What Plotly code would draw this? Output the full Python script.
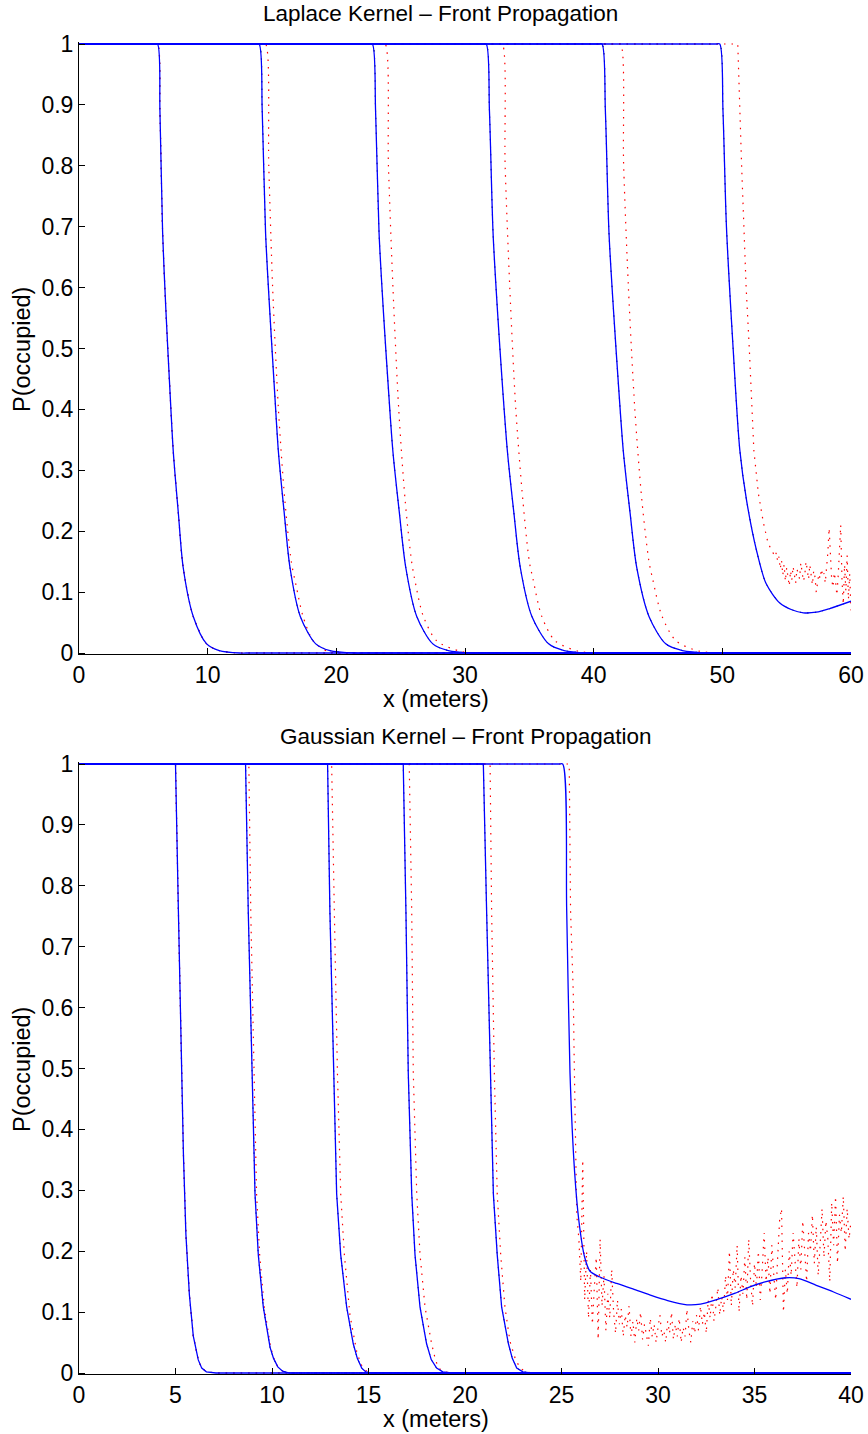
import plotly.graph_objects as go

# ---------------- Top panel: Laplace kernel ----------------
lap_blue_x = [
    [0, 5.8, 6.1, 6.29, 6.5, 6.76, 7.07, 7.33, 7.72, 8.1, 8.88, 9.92, 10.9, 12.5, 13.0, 60],
    [0, 13.7, 14.0, 14.24, 14.5, 14.83, 15.2, 15.5, 15.95, 16.4, 17.2, 18.4, 19.5, 21.5, 22.0, 60],
    [0, 22.5, 22.8, 23.05, 23.32, 23.66, 24.06, 24.4, 24.9, 25.4, 26.25, 27.5, 28.7, 30.5, 31.0, 60],
    [0, 31.35, 31.65, 31.9, 32.18, 32.53, 32.94, 33.3, 33.8, 34.3, 35.2, 36.5, 37.7, 39.5, 40.0, 60],
    [0, 40.35, 40.65, 40.91, 41.19, 41.55, 41.96, 42.31, 42.83, 43.35, 44.3, 45.6, 46.9, 49.0, 49.5, 60],
    [0, 49.5, 49.8, 50.05, 50.32, 50.84, 51.36, 51.88, 52.65, 53.4, 54.47, 55.4, 56.3, 57.3, 58.35, 60],
]
lap_blue_y = [
    [1, 1, 1, 0.89, 0.69, 0.56, 0.43, 0.33, 0.23, 0.14, 0.06, 0.015, 0.004, 0, 0, 0],
    [1, 1, 1, 0.89, 0.69, 0.56, 0.43, 0.33, 0.23, 0.14, 0.06, 0.015, 0.004, 0, 0, 0],
    [1, 1, 1, 0.89, 0.69, 0.56, 0.43, 0.33, 0.23, 0.14, 0.06, 0.015, 0.004, 0, 0, 0],
    [1, 1, 1, 0.89, 0.69, 0.56, 0.43, 0.33, 0.23, 0.14, 0.06, 0.015, 0.004, 0, 0, 0],
    [1, 1, 1, 0.89, 0.69, 0.56, 0.43, 0.33, 0.23, 0.14, 0.06, 0.015, 0.004, 0, 0, 0],
    [1, 1, 1, 0.89, 0.70, 0.50, 0.333, 0.251, 0.169, 0.114, 0.082, 0.071, 0.066, 0.067, 0.073, 0.085],
]

lap_red_x = [
    [0, 5.8, 6.1, 6.29, 6.5, 6.76, 7.07, 7.33, 7.72, 8.1, 8.88, 9.92, 10.9, 12.5, 13.0, 60],
    [0, 14.2, 14.5, 14.75, 15.05, 15.5, 16.0, 16.5, 16.9, 17.4, 18.2, 19.3, 20.5, 21.0, 60],
    [0, 23.5, 23.8, 24.05, 24.4, 24.85, 25.35, 25.85, 26.1, 26.75, 27.8, 29.6, 31.0, 31.5, 60],
    [0, 32.6, 32.9, 33.12, 33.48, 33.95, 34.5, 35.0, 35.3, 35.95, 37.0, 38.8, 40.5, 41.0, 60],
    [0, 41.8, 42.1, 42.33, 42.7, 43.2, 43.75, 44.3, 44.6, 45.3, 46.4, 48.2, 50.0, 50.5, 60],
]
lap_red_y = [
    [1, 1, 1, 0.89, 0.69, 0.56, 0.43, 0.33, 0.23, 0.14, 0.06, 0.015, 0.004, 0, 0, 0],
    [1, 1, 1, 0.8, 0.6, 0.4, 0.25, 0.15, 0.108, 0.061, 0.02, 0.003, 0, 0, 0],
    [1, 1, 1, 0.8, 0.6, 0.4, 0.25, 0.15, 0.12, 0.061, 0.02, 0.003, 0, 0, 0],
    [1, 1, 1, 0.8, 0.6, 0.4, 0.25, 0.15, 0.12, 0.061, 0.02, 0.003, 0, 0, 0],
    [1, 1, 1, 0.8, 0.6, 0.4, 0.25, 0.15, 0.12, 0.061, 0.02, 0.003, 0, 0, 0],
]
# last red front (drop, then noisy plateau)
lap_red6_x = [0, 51.2, 51.5, 51.85, 52.1, 52.27, 52.45, 52.8, 53.2, 53.56, 54.1,
              54.2, 54.3, 54.4, 54.5, 54.6, 54.7, 54.8, 54.9, 55.0, 55.1, 55.2, 55.3, 55.4,
              55.5, 55.6, 55.7, 55.8, 55.9, 56.0, 56.1, 56.2, 56.3, 56.4, 56.5, 56.6, 56.7,
              56.8, 56.9, 57.0, 57.1, 57.2, 57.3, 57.4, 57.5, 57.6, 57.7, 57.8, 57.9, 58.0,
              58.1, 58.2, 58.3, 58.4, 58.5, 58.6, 58.7, 58.8, 58.9, 59.0, 59.1, 59.2, 59.3,
              59.4, 59.5, 59.6, 59.7, 59.8, 59.9, 60.0]
lap_red6_y = [1, 1, 0.8, 0.6, 0.498, 0.415, 0.333, 0.262, 0.213, 0.18, 0.158,
              0.165, 0.150, 0.158, 0.138, 0.152, 0.128, 0.145, 0.118, 0.140, 0.125, 0.110, 0.135, 0.120,
              0.142, 0.128, 0.115, 0.138, 0.130, 0.122, 0.148, 0.132, 0.118, 0.126, 0.150, 0.137, 0.121,
              0.145, 0.128, 0.112, 0.135, 0.125, 0.100, 0.118, 0.130, 0.122, 0.138, 0.126, 0.131, 0.115,
              0.140, 0.165, 0.205, 0.150, 0.120, 0.108, 0.132, 0.118, 0.095, 0.125, 0.175, 0.210, 0.120,
              0.080, 0.145, 0.102, 0.160, 0.088, 0.130, 0.070]

# ---------------- Bottom panel: Gaussian kernel ----------------
gau_blue_x = [
    [0, 5.0, 5.15, 5.27, 5.41, 5.54, 5.72, 5.92, 6.06, 6.18, 6.36, 6.6, 7.1, 40],
    [0, 8.63, 8.77, 8.95, 9.12, 9.29, 9.55, 9.9, 10.08, 10.3, 10.55, 10.9, 40],
    [0, 12.88, 13.0, 13.18, 13.35, 13.56, 13.87, 14.21, 14.42, 14.65, 14.85, 15.1, 40],
    [0, 16.8, 16.94, 17.06, 17.24, 17.41, 17.67, 18.01, 18.25, 18.53, 18.85, 19.3, 40],
    [0, 20.95, 21.12, 21.3, 21.47, 21.67, 21.9, 22.25, 22.45, 22.68, 23.0, 23.4, 40],
]
gau_blue_y = [
    [1, 1, 0.758, 0.559, 0.36, 0.227, 0.128, 0.061, 0.038, 0.0215, 0.008, 0.002, 0, 0],
    [1, 1, 0.758, 0.493, 0.294, 0.194, 0.108, 0.042, 0.024, 0.01, 0.003, 0, 0],
    [1, 1, 0.758, 0.493, 0.294, 0.194, 0.108, 0.048, 0.024, 0.008, 0.002, 0, 0],
    [1, 1, 0.758, 0.493, 0.294, 0.194, 0.108, 0.048, 0.022, 0.008, 0.002, 0, 0],
    [1, 1, 0.758, 0.493, 0.294, 0.194, 0.108, 0.048, 0.024, 0.008, 0.002, 0, 0],
]
gau_blue6_x = [0, 24.86, 25.06, 25.27, 25.44, 25.68, 25.9, 26.2, 26.48, 26.96, 27.86, 28.7, 29.6,
               30.5, 31.5, 32.2, 33.0, 34.0, 34.8, 35.6, 36.5, 37.3, 38.2, 39.1, 40]
gau_blue6_y = [1, 1, 1, 0.758, 0.493, 0.33, 0.25, 0.19, 0.167, 0.158, 0.147, 0.138, 0.128,
               0.119, 0.112, 0.113, 0.12, 0.131, 0.142, 0.15, 0.156, 0.155, 0.144, 0.133, 0.121]

gau_red_x = [
    [0, 5.0, 5.15, 5.27, 5.41, 5.54, 5.72, 5.92, 6.06, 6.18, 6.36, 6.6, 7.1, 40],
    [0, 8.8, 8.9, 9.05, 9.2, 9.36, 9.6, 9.93, 10.1, 10.3, 10.55, 10.9, 40],
    [0, 13.09, 13.23, 13.39, 13.56, 13.75, 14.04, 14.39, 14.6, 14.8, 15.1, 40],
    [0, 17.11, 17.24, 17.32, 17.5, 17.67, 17.93, 18.27, 18.45, 18.62, 18.95, 19.3, 40],
    [0, 21.3, 21.38, 21.52, 21.67, 21.85, 22.07, 22.33, 22.6, 22.85, 23.15, 23.5, 40],
]
gau_red_y = [
    [1, 1, 0.758, 0.559, 0.36, 0.227, 0.128, 0.061, 0.038, 0.0215, 0.008, 0.002, 0, 0],
    [1, 1, 0.758, 0.493, 0.294, 0.194, 0.108, 0.042, 0.024, 0.01, 0.003, 0, 0],
    [1, 1, 0.758, 0.493, 0.294, 0.194, 0.095, 0.035, 0.015, 0.005, 0, 0],
    [1, 1, 0.758, 0.493, 0.294, 0.194, 0.108, 0.048, 0.024, 0.008, 0.002, 0, 0],
    [1, 1, 0.758, 0.493, 0.294, 0.194, 0.108, 0.052, 0.024, 0.008, 0.002, 0, 0],
]
gau_red6_x = [0, 25.4, 25.47, 25.61, 25.65, 25.72, 25.79, 25.9,
              26.0, 26.1, 26.2, 26.3, 26.4, 26.5, 26.6, 26.7, 26.8, 26.9,
              27.0, 27.1, 27.2, 27.3, 27.4, 27.5, 27.6, 27.7, 27.8, 27.9,
              28.0, 28.1, 28.2, 28.3, 28.4, 28.5, 28.6, 28.7, 28.8, 28.9,
              29.0, 29.1, 29.2, 29.3, 29.4, 29.5, 29.6, 29.7, 29.8, 29.9,
              30.0, 30.1, 30.2, 30.3, 30.4, 30.5, 30.6, 30.7, 30.8, 30.9,
              31.0, 31.1, 31.2, 31.3, 31.4, 31.5, 31.6, 31.7, 31.8, 31.9,
              32.0, 32.1, 32.2, 32.3, 32.4, 32.5, 32.6, 32.7, 32.8, 32.9,
              33.0, 33.1, 33.2, 33.3, 33.4, 33.5, 33.6, 33.7, 33.8, 33.9,
              34.0, 34.1, 34.2, 34.3, 34.4, 34.5, 34.6, 34.7, 34.8, 34.9,
              35.0, 35.1, 35.2, 35.3, 35.4, 35.5, 35.6, 35.7, 35.8, 35.9,
              36.0, 36.1, 36.2, 36.3, 36.4, 36.5, 36.6, 36.7, 36.8, 36.9,
              37.0, 37.1, 37.2, 37.3, 37.4, 37.5, 37.6, 37.7, 37.8, 37.9,
              38.0, 38.1, 38.2, 38.3, 38.4, 38.5, 38.6, 38.7, 38.8, 38.9,
              39.0, 39.1, 39.2, 39.3, 39.4, 39.5, 39.6, 39.7, 39.8, 39.9, 40.0]
gau_red6_y = [1, 1, 0.758, 0.625, 0.53, 0.37, 0.26, 0.22,
              0.15, 0.35, 0.12, 0.20, 0.09, 0.17, 0.08, 0.14, 0.19, 0.055,
              0.22, 0.11, 0.16, 0.07, 0.13, 0.09, 0.17, 0.10, 0.065, 0.12,
              0.08, 0.105, 0.06, 0.095, 0.075, 0.11, 0.06, 0.085, 0.05, 0.09,
              0.07, 0.10, 0.055, 0.08, 0.065, 0.045, 0.09, 0.06, 0.08, 0.05,
              0.075, 0.095, 0.06, 0.07, 0.05, 0.085, 0.065, 0.10, 0.055, 0.08,
              0.06, 0.09, 0.05, 0.075, 0.06, 0.105, 0.07, 0.05, 0.085, 0.065,
              0.095, 0.07, 0.11, 0.08, 0.10, 0.065, 0.12, 0.09, 0.13, 0.085,
              0.11, 0.14, 0.095, 0.125, 0.10, 0.16, 0.12, 0.20, 0.11, 0.17,
              0.14, 0.21, 0.10, 0.16, 0.13, 0.19, 0.12, 0.22, 0.15, 0.11,
              0.18, 0.14, 0.20, 0.12, 0.17, 0.23, 0.15, 0.19, 0.13, 0.21,
              0.16, 0.12, 0.19, 0.25, 0.27, 0.10, 0.17, 0.13, 0.20, 0.16,
              0.23, 0.18, 0.14, 0.22, 0.17, 0.25, 0.19, 0.15, 0.23, 0.20,
              0.26, 0.18, 0.24, 0.16, 0.21, 0.27, 0.19, 0.25, 0.22, 0.15,
              0.28, 0.21, 0.29, 0.18, 0.26, 0.23, 0.29, 0.20, 0.27, 0.22, 0.25]

lap_xticks = [0, 10, 20, 30, 40, 50, 60]
gau_xticks = [0, 5, 10, 15, 20, 25, 30, 35, 40]
y_ticks = [0, 0.1, 0.2, 0.3, 0.4, 0.5, 0.6, 0.7, 0.8, 0.9, 1]
y_ticklabels = ["0", "0.1", "0.2", "0.3", "0.4", "0.5", "0.6", "0.7", "0.8", "0.9", "1"]

titles = ["Laplace Kernel \u2013 Front Propagation", "Gaussian Kernel \u2013 Front Propagation"]
xlabel = "x (meters)"
ylabel = "P(occupied)"

BLUE = "#0000ff"
RED = "#ff0000"
BLACK = "#000000"
DOT = "1.5px,6px"
FONT = "Liberation Sans, Arial, Helvetica, sans-serif"

W, H = 868, 1434
fig = go.Figure()


def add(xs, ys, color, dash, width, ax, shape="linear"):
    fig.add_trace(go.Scatter(
        x=xs, y=ys, mode="lines",
        line=dict(color=color, width=width, dash=dash, shape=shape, smoothing=0.8),
        xaxis="x" if ax == 1 else "x2", yaxis="y" if ax == 1 else "y2",
        showlegend=False, hoverinfo="skip"))


# top panel
for xs, ys in zip(lap_blue_x, lap_blue_y):
    add(xs, ys, BLACK, DOT, 1.0, 1, "spline")
for xs, ys in zip(lap_red_x, lap_red_y):
    add(xs, ys, RED, DOT, 1.2, 1, "spline")
add(lap_red6_x, lap_red6_y, RED, DOT, 1.2, 1)
for xs, ys in zip(lap_blue_x, lap_blue_y):
    add(xs, ys, BLUE, "solid", 1.3, 1, "spline")

# bottom panel
for xs, ys in zip(gau_blue_x, gau_blue_y):
    add(xs, ys, BLACK, DOT, 1.0, 2)
for xs, ys in zip(gau_red_x, gau_red_y):
    add(xs, ys, RED, DOT, 1.2, 2)
add(gau_red6_x, gau_red6_y, RED, DOT, 1.2, 2)
for xs, ys in zip(gau_blue_x, gau_blue_y):
    add(xs, ys, BLUE, "solid", 1.3, 2)
add(gau_blue6_x, gau_blue6_y, BLUE, "solid", 1.3, 2, "spline")

# pixel geometry
X0, X1 = 79, 851
def py(p):
    return (H - p) / H

YPAD_LO, YPAD_HI = 0.002, 0.003
top_y0, top_y1 = 653, 44
bot_y0, bot_y1 = 1373, 764
ppu = 609.0

axis_common = dict(
    showgrid=False, zeroline=False, showline=True, linecolor=BLACK, linewidth=1,
    ticks="inside", ticklen=6, tickwidth=1, tickcolor=BLACK, mirror=False,
    automargin=False,
    tickfont=dict(family=FONT, size=23, color=BLACK),
)

fig.update_layout(
    width=W, height=H, margin=dict(l=0, r=0, t=0, b=0, autoexpand=False),
    paper_bgcolor="white", plot_bgcolor="white",
    xaxis=dict(domain=[X0 / W, X1 / W], range=[0, 60], tickvals=lap_xticks,
               anchor="y", ticklabelstandoff=0, **axis_common),
    yaxis=dict(domain=[py(top_y0 + YPAD_LO * ppu), py(top_y1 - YPAD_HI * ppu)],
               range=[-YPAD_LO, 1 + YPAD_HI], tickvals=y_ticks, ticktext=y_ticklabels,
               anchor="x", ticklabelstandoff=0, **axis_common),
    xaxis2=dict(domain=[X0 / W, X1 / W], range=[0, 40], tickvals=gau_xticks,
                anchor="y2", ticklabelstandoff=0, **axis_common),
    yaxis2=dict(domain=[py(bot_y0 + YPAD_LO * ppu), py(bot_y1 - YPAD_HI * ppu)],
                range=[-YPAD_LO, 1 + YPAD_HI], tickvals=y_ticks, ticktext=y_ticklabels,
                anchor="x2", ticklabelstandoff=0, **axis_common),
)

title_font = dict(family=FONT, size=22.5, color=BLACK)
label_font = dict(family=FONT, size=23.5, color=BLACK)
annotations = [
    dict(text=titles[0], x=440 / W, y=py(13), xref="paper", yref="paper",
         xanchor="center", yanchor="middle", showarrow=False, font=title_font),
    dict(text=xlabel, x=436 / W, y=py(699), xref="paper", yref="paper",
         xanchor="center", yanchor="middle", showarrow=False, font=label_font),
    dict(text=ylabel, x=22 / W, y=py(350), xref="paper", yref="paper", textangle=-90,
         xanchor="center", yanchor="middle", showarrow=False, font=label_font),
    dict(text=titles[1], x=466 / W, y=py(737), xref="paper", yref="paper",
         xanchor="center", yanchor="middle", showarrow=False, font=title_font),
    dict(text=xlabel, x=436 / W, y=py(1419), xref="paper", yref="paper",
         xanchor="center", yanchor="middle", showarrow=False, font=label_font),
    dict(text=ylabel, x=22 / W, y=py(1070), xref="paper", yref="paper", textangle=-90,
         xanchor="center", yanchor="middle", showarrow=False, font=label_font),
]
fig.update_layout(annotations=annotations)

fig.write_html(
    "out.html",
    config={"displayModeBar": False},
    post_script="document.body.style.margin='0px';document.body.style.overflow='hidden';",
)
